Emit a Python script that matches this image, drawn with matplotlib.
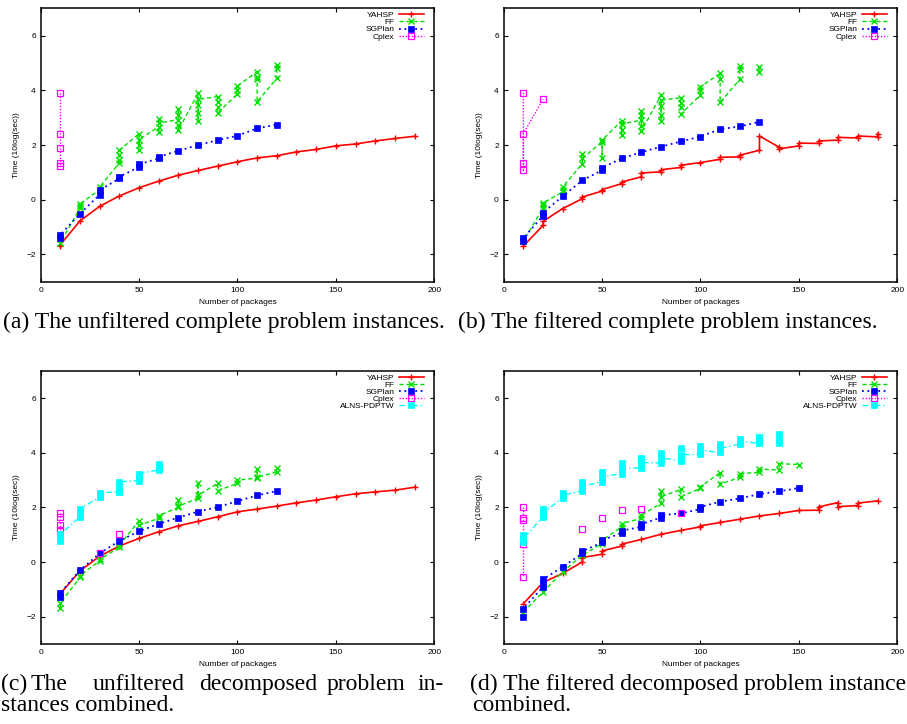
import numpy as np
import matplotlib
matplotlib.use("Agg")
import matplotlib.pyplot as plt

plt.rcParams['font.family'] = ['Liberation Sans', 'DejaVu Sans']

W, H = 907, 724

# Runtime per instance as log10(seconds); several instances per package count.
PKG_10_190 = [10, 20, 30, 40, 50, 60, 70, 80, 90, 100, 110, 120, 130, 140, 150, 160, 170, 180, 190]
PKG_10_150 = [10, 20, 30, 40, 50, 60, 70, 80, 90, 100, 110, 120, 130, 140, 150]
PKG_10_140 = [10, 20, 30, 40, 50, 60, 70, 80, 90, 100, 110, 120, 130, 140]
PKG_10_130 = [10, 20, 30, 40, 50, 60, 70, 80, 90, 100, 110, 120, 130]
PKG_10_120 = [10, 20, 30, 40, 50, 60, 70, 80, 90, 100, 110, 120]
PKG_10_60 = [10, 20, 30, 40, 50, 60]

# (a) unfiltered complete instances
a_yahsp_y = [[-1.69, -1.64], [-0.77], [-0.24], [0.14], [0.44], [0.68], [0.90], [1.07], [1.23],
             [1.39], [1.53], [1.61], [1.75], [1.84], [1.97], [2.04], [2.15], [2.24], [2.32]]
a_ff_y = [[-1.45, -1.58], [-0.30, -0.22, -0.15], [0.37, 0.47], [1.35, 1.45, 1.63, 1.81],
          [2.42, 2.02, 1.81, 2.20], [2.67, 2.48, 2.97, 2.81], [2.93, 3.30, 3.09, 2.73, 2.55],
          [3.89, 3.46, 2.89, 3.16, 3.67], [3.77, 3.58, 3.40, 3.18], [3.87, 4.03, 4.16],
          [4.68, 4.50, 4.40, 3.58], [4.44, 4.80, 4.93]]
a_sgp_y = [[-1.40, -1.28], [-0.51], [0.19, 0.35], [0.78, 0.84], [1.20, 1.30], [1.51, 1.57],
           [1.79], [2.00], [2.18], [2.34], [2.61], [2.75]]
a_cplex_x = [10]
a_cplex_y = [[3.92, 2.42, 1.91, 1.35, 1.22]]

# (b) filtered complete instances
b_yahsp_y = [[-1.69], [-0.94, -0.79], [-0.32], [0.04, 0.10], [0.32, 0.37], [0.59, 0.65],
             [0.84, 0.98], [1.02, 1.10], [1.18, 1.26], [1.36], [1.48, 1.55], [1.57, 1.63],
             [1.81, 2.33], [1.92, 1.86], [1.97, 2.07], [2.06, 2.15], [2.18, 2.28], [2.26, 2.33],
             [2.30, 2.42]]
b_ff_y = [[-1.43, -1.52], [-0.29, -0.20, -0.12], [0.29, 0.37, 0.47], [1.32, 1.67, 1.51],
          [2.12, 1.54, 2.18], [2.89, 2.36, 2.55, 2.77], [2.91, 3.25, 3.10, 2.69, 2.51],
          [3.83, 2.89, 3.10, 3.42, 3.64], [3.73, 3.55, 3.38, 3.13], [3.83, 4.01, 4.13],
          [4.62, 4.40, 3.56], [4.40, 4.77, 4.89], [4.87, 4.68]]
b_ff_breaks = [130]
b_sgp_y = [[-1.51, -1.40], [-0.59, -0.47], [0.13], [0.71], [1.08, 1.17], [1.51], [1.74],
           [1.94], [2.13], [2.31], [2.58], [2.68], [2.85]]
b_cplex_x = [10, 20]
b_cplex_y = [[3.91, 1.08, 1.35, 2.42], [3.67]]

# (c) unfiltered decomposed instances combined
c_yahsp_y = [[-1.15], [-0.32], [0.22], [0.59], [0.87], [1.11], [1.33], [1.49], [1.66], [1.84],
             [1.94], [2.05], [2.17], [2.27], [2.39], [2.50], [2.57], [2.63], [2.74]]
c_ff_y = [[-1.67, -1.49], [-0.56, -0.49], [0.05, 0.10], [0.54, 0.62], [1.51, 1.35],
          [1.60, 1.70], [2.00, 2.27, 2.05], [2.33, 2.90, 2.45], [2.88, 2.61], [2.88, 3.00],
          [3.07, 3.39, 3.10], [3.30, 3.45]]
c_sgp_y = [[-1.27, -1.12], [-0.29], [0.32], [0.78], [1.13], [1.40], [1.63], [1.85], [2.01],
           [2.23], [2.44], [2.60]]
c_cplex_x = [10, 30, 40]
c_cplex_y = [[1.78, 1.66, 1.35, 1.17], [0.32], [1.02]]
c_cplex_breaks = [30, 40]
c_alns_y = [[0.78, 0.90, 1.02], [1.66, 1.80, 1.96], [2.37, 2.45, 2.54], [2.57, 2.75, 2.94],
            [2.98, 3.10, 3.24], [3.37, 3.48, 3.59]]

# (d) filtered decomposed instances combined
d_yahsp_y = [[-1.52], [-0.74], [-0.41], [0.01, 0.17], [0.29, 0.41], [0.59, 0.66], [0.83],
             [1.02], [1.16], [1.29, 1.33], [1.45], [1.57], [1.69], [1.78], [1.89], [1.90, 2.02],
             [2.18, 2.03], [2.07, 2.16], [2.24]]
d_ff_y = [[-1.82], [-1.09], [-0.35], [0.26], [0.68, 0.80], [1.29, 1.41], [1.60, 1.72],
          [2.15, 2.61, 2.39], [2.66, 2.39], [2.70, 2.76], [3.27, 2.85], [3.10, 3.24],
          [3.28, 3.40], [3.37, 3.60], [3.57]]
d_sgp_y = [[-2.00, -1.70], [-0.90, -0.78, -0.63], [-0.17], [0.32, 0.40], [0.72, 0.80],
           [1.07, 1.15], [1.29, 1.39], [1.63, 1.72], [1.78], [1.94, 2.02], [2.21], [2.33],
           [2.49], [2.59], [2.71]]
d_cplex_x = [10, 40, 50, 60, 70, 90]
d_cplex_y = [[2.00, 1.60, 1.54, 0.68, -0.54], [1.23], [1.60], [1.90], [1.93], [1.78]]
d_cplex_breaks = [40, 50, 60, 70, 90]
d_alns_y = [[0.74, 0.99, 0.86], [1.66, 1.96, 1.80], [2.35, 2.54, 2.45], [2.61, 2.94, 2.78],
            [2.94, 3.30, 3.12], [3.24, 3.61, 3.42], [3.45, 3.82, 3.64], [3.63, 4.00, 3.82],
            [3.70, 4.16, 3.93], [3.94, 4.24, 4.09], [4.01, 4.32, 4.16], [4.32, 4.52, 4.42],
            [4.34, 4.59, 4.46], [4.37, 4.67, 4.52]]
d_alns_breaks = [140]

X_TICKS = [0, 50, 100, 150, 200]
Y_TICKS = [-2, 0, 2, 4, 6]

STYLES = {
    'YAHSP': dict(color='#ff0000', ls='-', lw=1.2, marker='+', ms=5, mew=1.0),
    'FF': dict(color='#00e000', ls=(0, (3, 2)), lw=1.0, marker='x', ms=4, mew=1.0),
    'SGPlan': dict(color='#0000ff', ls=(0, (1, 2)), lw=1.3, marker='s', ms=4, mew=0.5),
    'Cplex': dict(color='#ff00ff', ls=(0, (1, 1.2)), lw=1.0, marker='s', ms=4,
                  mfc='none', mew=0.9),
    'ALNS-PDPTW': dict(color='#00ffff', ls=(0, (4, 2, 1, 2)), lw=1.0, marker='s', ms=4.5,
                       mew=0.5),
}


def flatten(xs, groups, breaks=()):
    px, py = [], []
    for x, grp in zip(xs, groups):
        if x in breaks and px:
            px.append(np.nan)
            py.append(np.nan)
        px.extend([x] * len(grp))
        py.extend(grp)
    return px, py


PANELS = [
    # (left px, top px, series)
    (40.7, 8.3, [('YAHSP', PKG_10_190, a_yahsp_y, ()),
                 ('FF', PKG_10_120, a_ff_y, ()),
                 ('SGPlan', PKG_10_120, a_sgp_y, ()),
                 ('Cplex', a_cplex_x, a_cplex_y, ())]),
    (503.7, 8.3, [('YAHSP', PKG_10_190, b_yahsp_y, ()),
                  ('FF', PKG_10_130, b_ff_y, b_ff_breaks),
                  ('SGPlan', PKG_10_130, b_sgp_y, ()),
                  ('Cplex', b_cplex_x, b_cplex_y, ())]),
    (40.7, 370.7, [('YAHSP', PKG_10_190, c_yahsp_y, ()),
                   ('FF', PKG_10_120, c_ff_y, ()),
                   ('SGPlan', PKG_10_120, c_sgp_y, ()),
                   ('Cplex', c_cplex_x, c_cplex_y, c_cplex_breaks),
                   ('ALNS-PDPTW', PKG_10_60, c_alns_y, ())]),
    (503.7, 370.7, [('YAHSP', PKG_10_190, d_yahsp_y, ()),
                    ('FF', PKG_10_150, d_ff_y, ()),
                    ('SGPlan', PKG_10_150, d_sgp_y, ()),
                    ('Cplex', d_cplex_x, d_cplex_y, d_cplex_breaks),
                    ('ALNS-PDPTW', PKG_10_140, d_alns_y, d_alns_breaks)]),
]
AX_W, AX_H = 393.5, 273.5

fig = plt.figure(figsize=(W / 100, H / 100), dpi=100)

for left, top, series in PANELS:
    ax = fig.add_axes([left / W, 1 - (top + AX_H) / H, AX_W / W, AX_H / H])
    for name, xs, ys, brk in series:
        px, py = flatten(xs, ys, brk)
        ax.plot(px, py, label=name, **STYLES[name])
    ax.set_xlim(0, 200)
    ax.set_ylim(-3, 7)
    ax.set_xticks(X_TICKS)
    ax.set_yticks(Y_TICKS)
    ax.tick_params(direction='in', length=3.2, width=0.8, top=True, right=True,
                   labelsize=6, pad=3.5)
    for sp in ax.spines.values():
        sp.set_linewidth(1.1)
    ax.set_xlabel('Number of packages', fontsize=6)
    ax.set_ylabel('Time (10log(sec))', fontsize=6)
    ax.xaxis.set_label_coords(0.5, -0.062)
    ax.yaxis.set_label_coords(-0.052, 0.5)
    ax.legend(loc='upper right', bbox_to_anchor=(1 - 10.5 / AX_W, 1 - 3.0 / AX_H),
              frameon=False, markerfirst=False, fontsize=6, handlelength=3.0,
              handletextpad=0.5, labelspacing=-0.08, borderaxespad=0, borderpad=0,
              numpoints=1)

CAP = dict(fontsize=17, family='Liberation Serif', va='baseline', ha='left')


def cap(x, y, s):
    fig.text(x / W, 1 - y / H, s, **CAP)


cap(3, 328, '(a) The unfiltered complete problem instances.')
cap(458, 328, '(b) The filtered complete problem instances.')
for word, x in [('(c)', 1), ('The', 31), ('unfiltered', 93), ('decomposed', 199),
                ('problem', 327), ('in-', 418)]:
    cap(x, 690, word)
cap(1, 711, 'stances combined.')
cap(470, 690, '(d) The filtered decomposed problem instances')
cap(472, 711, 'combined.')

fig.savefig('out.png', dpi=100)
